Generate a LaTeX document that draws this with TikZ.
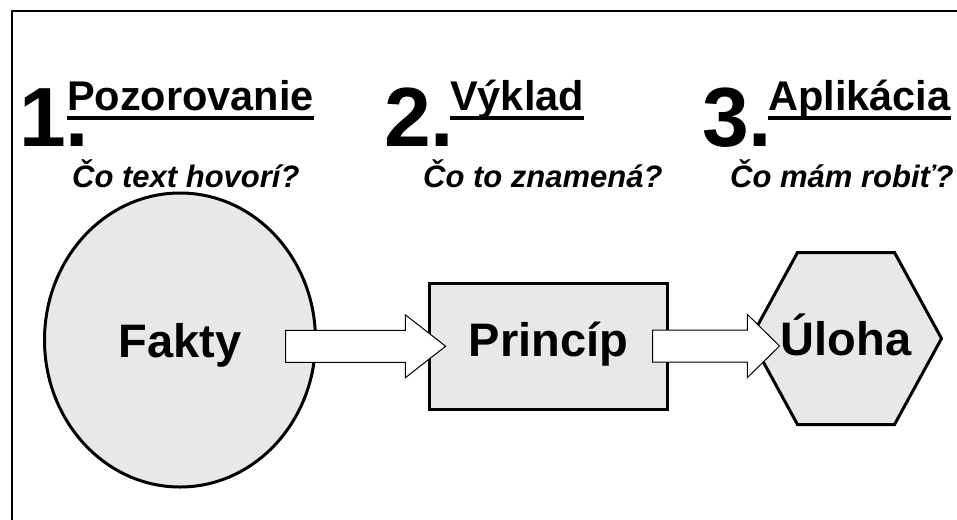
\documentclass[tikz,border=0pt]{standalone}
\usepackage{fontspec}
\setmainfont{Liberation Sans}
\usepackage{tikz}
\usetikzlibrary{shapes.geometric, shapes.arrows, positioning, calc, backgrounds}
\definecolor{shapegray}{RGB}{232, 232, 232}

\begin{document}
\begin{tikzpicture}[x=1pt, y=-1pt,
    number/.style={anchor=base west, inner sep=0pt, font=\fontsize{84}{84}\selectfont\bfseries},
    heading/.style={anchor=base west, inner sep=0pt, font=\fontsize{41.5}{42}\selectfont\bfseries},
    question/.style={anchor=base west, inner sep=0pt, font=\fontsize{31}{31}\selectfont\bfseries\itshape},
    block/.style={draw=black, fill=shapegray, line width=3pt, inner sep=0pt, text height=34pt, text depth=0pt, font=\fontsize{47}{47}\selectfont\bfseries},
    bigarrow/.style={single arrow, draw=black, fill=white, line width=1pt, inner xsep=0pt, inner ysep=15.5pt, single arrow head extend=15.5pt},
    uline/.style={line width=4pt}
]
    \useasboundingbox (0,0) rectangle (957,519);
    \clip (0,0) rectangle (957,519);
    \draw[line width=2pt] (12,540) -- (12,11) -- (980,11);

    \node[number] (n1) at (19,146) {1.};
    \node[number] (n2) at (384,146) {2.};
    \node[number] (n3) at (702,146) {3.};

    \node[heading] (h1) at (67,110) {Pozorovanie};
    \node[heading] (h2) at (450,110) {Výklad};
    \node[heading] (h3) at (768,110) {Aplikácia};
    \foreach \h in {h1,h2,h3}
        \draw[uline] ([yshift=-8pt]\h.base west) -- ([yshift=-8pt]\h.base east);

    \node[question] (q1) at (72,187) {Čo text hovorí?};
    \node[question] (q2) at (423,187) {Čo to znamená?};
    \node[question] (q3) at (730,187) {Čo mám robiť?};

    \node[block, ellipse, minimum width=271pt, minimum height=294pt] (fakty) at (180,340) {Fakty};
    \node[block, rectangle, line width=3.5pt, minimum width=238pt, minimum height=126pt, text depth=14pt] (princip) at (548.5,346.5) {Princíp};
    \node[block, draw=none, fill=none, outer sep=0pt, minimum width=191pt, minimum height=172pt] (uloha) at (846,338.5) {Úloha};
    \begin{scope}[on background layer]
        \draw[block] (uloha.west) -- ([xshift=47pt]uloha.north west) -- ([xshift=-47pt]uloha.north east)
            -- (uloha.east) -- ([xshift=-47pt]uloha.south east) -- ([xshift=47pt]uloha.south west) -- cycle;
    \end{scope}

    \node[bigarrow, minimum height=160pt, single arrow tip angle=76] (arr1) at ($(fakty.east)!0.5!(princip.west)$) [xshift=-17pt, yshift=-3pt] {};
    \node[bigarrow, minimum height=127pt, single arrow tip angle=89] (arr2) at ($(princip.east)!0.5!(uloha.west)$) [xshift=-2pt, yshift=-3.5pt] {};
\end{tikzpicture}
\end{document}
